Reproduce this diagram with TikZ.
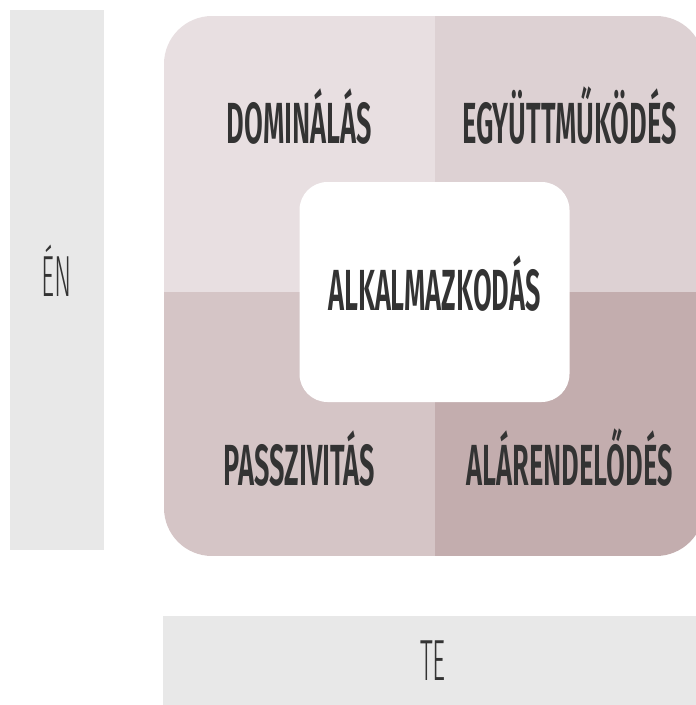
\documentclass[tikz,border=0pt]{standalone}
\usepackage{fontspec}
\newfontfamily\handfont[FakeStretch=0.47]{Fira Sans SemiBold}
\newfontfamily\thinfont[FakeStretch=0.44]{Fira Sans Light}
\usetikzlibrary{positioning}
\definecolor{bargray}{HTML}{E8E8E8}
\definecolor{ink}{HTML}{333333}
\definecolor{qtl}{HTML}{E8DFE1}
\definecolor{qtr}{HTML}{DDD1D3}
\definecolor{qbl}{HTML}{D5C5C6}
\definecolor{qbr}{HTML}{C3ADAE}
\tikzstyle{bar} = [fill=bargray,inner sep=0pt,anchor=north west]
\tikzstyle{quad} = [inner sep=0pt,anchor=north west]
\tikzstyle{axis} = [text=ink,anchor=base,inner sep=0pt,font=\thinfont\fontsize{58}{58}\selectfont]
\tikzstyle{label} = [text=ink,anchor=base,inner sep=0pt,font=\handfont\fontsize{58}{58}\selectfont]
\tikzstyle{core} = [fill=white,rounded corners=28pt,inner sep=0pt,minimum width=270pt,minimum height=220pt]

\begin{document}
\begin{tikzpicture}[x=1pt,y=-1pt]
  \useasboundingbox (0,0) rectangle (696,705);
  \clip (0,0) rectangle (696,705);

  %axes
  \node[bar,minimum width=94pt,minimum height=540pt] (en) at (10,10) {};
  \node[axis] at (57,296) {ÉN};
  \node[bar,minimum width=541pt,minimum height=95pt] (te) at (163,616) {};
  \node[axis] at (433,680) {TE};

  %quadrants
  \begin{scope}
    \clip[rounded corners=48pt] (164,16) rectangle (704,556);
    \node[quad,fill=qtl,minimum width=272pt,minimum height=277pt] (dom) at (164,16) {};
    \node[quad,fill=qtr,minimum width=269pt,minimum height=277pt] (egy) at (435,16) {};
    \node[quad,fill=qbl,minimum width=272pt,minimum height=264pt] (pas) at (164,292) {};
    \node[quad,fill=qbr,minimum width=269pt,minimum height=264pt] (ala) at (435,292) {};
  \end{scope}

  %labels
  \node[label] at (299.5,143) {DOMINÁLÁS};
  \node[label] at (569.5,143) {EGYÜTTMŰKÖDÉS};
  \node[label] at (299.5,485) {PASSZIVITÁS};
  \node[label] at (569.5,485) {ALÁRENDELŐDÉS};

  %center
  \node[core] (alk) at (434.5,292) {};
  \node[label] at (434.5,310) {ALKALMAZKODÁS};

\end{tikzpicture}
\end{document}
